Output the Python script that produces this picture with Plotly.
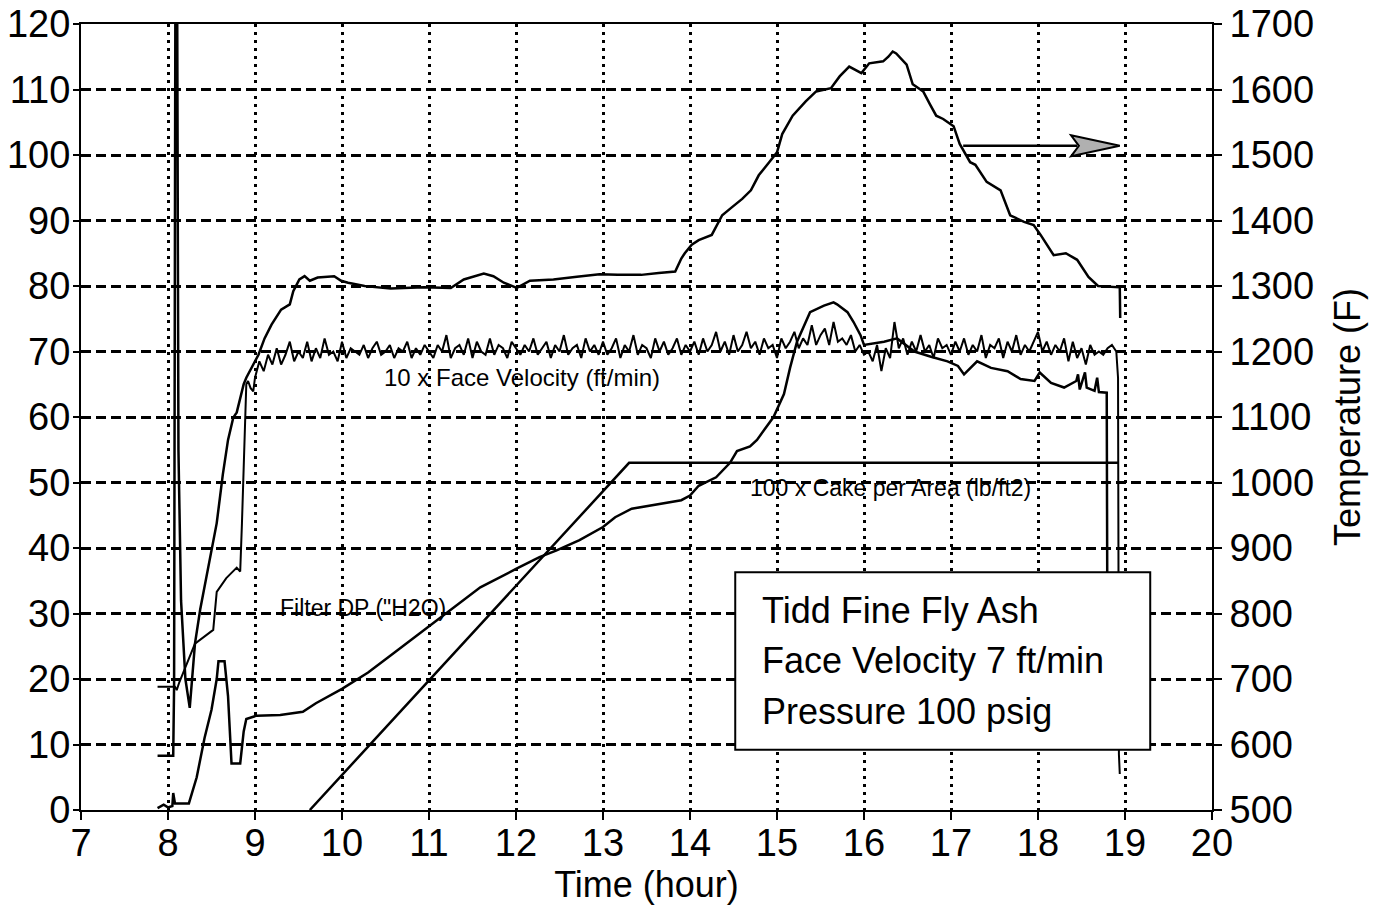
import plotly.graph_objects as go

FONT = "Liberation Sans, Arial, Helvetica, sans-serif"

# ---------------- data ----------------
# Temperature (F), right axis
temp_time = [7.88, 8.06, 8.07, 8.085, 8.105, 8.12, 8.15, 8.20, 8.25, 8.31, 8.37, 8.46, 8.56, 8.63,
             8.69, 8.75, 8.79, 8.87, 8.90, 9.04, 9.11, 9.19, 9.30, 9.40, 9.44, 9.51, 9.57, 9.63,
             9.72, 9.91, 9.99, 10.07, 10.26, 10.56, 10.94, 11.25, 11.40, 11.63, 11.74, 11.86,
             12.01, 12.16, 12.43, 12.70, 12.96, 13.17, 13.44, 13.64, 13.83, 13.90, 13.94, 14.02,
             14.10, 14.25, 14.31, 14.37, 14.48, 14.60, 14.70, 14.79, 14.91, 15.00, 15.06, 15.18,
             15.33, 15.45, 15.62, 15.72, 15.83, 15.97, 16.06, 16.22, 16.28, 16.33, 16.37, 16.49,
             16.56, 16.68, 16.76, 16.83, 16.91, 17.03, 17.10, 17.22, 17.28, 17.41, 17.57, 17.64,
             17.68, 17.84, 17.95, 18.03, 18.18, 18.32, 18.45, 18.58, 18.69, 18.94, 18.945]
temp_F = [583, 583, 690, 1760, 1760, 1050, 820, 700, 656, 754, 806, 870, 938, 1012,
          1065, 1099, 1107, 1150, 1160, 1195, 1220, 1241, 1264, 1272, 1292, 1310, 1315, 1308,
          1313, 1315, 1308, 1305, 1300, 1296, 1298, 1297, 1310, 1319, 1315, 1305,
          1297, 1308, 1310, 1314, 1318, 1317, 1317, 1320, 1322, 1342, 1350, 1363,
          1370, 1378, 1393, 1408, 1420, 1433, 1446, 1469, 1489, 1504, 1532, 1560,
          1582, 1597, 1602, 1620, 1635, 1625, 1640, 1643, 1650, 1658, 1655, 1638,
          1608, 1597, 1577, 1560, 1555, 1544, 1517, 1489, 1485, 1459, 1446, 1423,
          1408, 1398, 1393, 1378, 1347, 1350, 1340, 1314, 1300, 1298, 1251]

# 10 x Face Velocity (ft/min): start-up part
fv_time_start = [7.88, 8.08, 8.10, 8.13, 8.31, 8.52, 8.56, 8.67, 8.79, 8.83, 8.85, 8.88,
                 8.90, 8.92, 8.95, 8.98]
fv_start = [18.8, 18.8, 18.3, 19.5, 25.4, 27.5, 33.3, 35.4, 37.0, 36.4, 43.8, 55.4,
            65.0, 65.5, 64.4, 63.9]
# noisy part, sampled every 0.05 h from 9.00 h to 18.90 h
fv_noisy = [
    66.0, 68.5, 67.0, 69.5, 68.0, 70.5, 68.0, 69.5, 71.5, 68.5, 70.0, 69.0, 71.5, 68.5, 70.5, 69.0, 72.0, 69.5, 70.0, 68.5,
    71.5, 69.0, 70.5, 70.0, 69.5, 71.0, 69.0, 70.5, 71.5, 69.5, 70.0, 71.0, 69.0, 70.5, 70.0, 71.5, 69.0, 70.5, 69.5, 71.0,
    70.0, 69.0, 71.0, 70.0, 72.5, 69.0, 70.5, 71.0, 69.5, 72.0, 69.0, 71.5, 70.0, 69.5, 72.0, 69.5, 71.0, 70.5, 69.0, 71.5,
    70.5, 69.5, 71.0, 70.0, 72.0, 69.5, 70.5, 71.5, 69.0, 71.0, 70.0, 72.5, 69.5, 70.5, 71.0, 69.0, 72.0, 70.0, 71.0, 69.5,
    71.5, 69.5, 70.5, 72.0, 69.0, 71.0, 70.0, 72.5, 69.5, 71.0, 70.5, 69.0, 72.0, 70.0, 71.5, 69.5, 70.5, 72.0, 69.5, 71.0,
    70.0, 71.5, 69.5, 72.0, 70.0, 71.0, 73.0, 70.0, 71.5, 69.5, 72.5, 70.0, 71.0, 73.0, 70.5, 71.5, 69.5, 72.0, 70.5, 71.0,
    69.0, 72.0, 70.5, 71.5, 73.0, 70.5, 72.0, 71.0, 74.0, 71.0, 72.5, 73.5, 71.0, 74.5, 71.5, 72.0, 71.0, 72.5, 70.0, 71.0,
    69.5, 70.0, 68.5, 71.0, 67.0, 70.5, 69.0, 74.5, 70.5, 72.0, 69.5, 71.5, 70.0, 72.5, 70.0, 71.0, 69.0, 72.0, 70.5, 71.0,
    69.5, 71.5, 70.0, 72.0, 69.5, 71.0, 70.0, 72.5, 69.0, 71.0, 70.5, 72.0, 69.0, 71.5, 70.0, 72.5, 69.5, 71.0, 70.0, 71.5,
    73.0, 70.0, 71.5, 69.5, 71.0, 70.0, 72.0, 68.5, 71.5, 69.0, 70.5, 68.0, 71.0, 69.5, 70.0, 69.5, 70.5, 71.0, 70.0]
fv_time_end = [18.92, 18.93, 18.94]
fv_end = [66.0, 8.5, 5.5]

# Filter DP ("H2O)
dp_time = [7.88, 7.95, 8.00, 8.05, 8.06, 8.08, 8.24, 8.33, 8.42, 8.50, 8.56, 8.58, 8.65, 8.69,
           8.73, 8.83, 8.87, 8.90, 9.02, 9.29, 9.55, 9.70, 10.00, 10.30, 10.60, 10.90, 11.24,
           11.59, 12.00, 12.27, 12.46, 12.73, 13.00, 13.14, 13.33, 13.68, 13.90, 14.00, 14.10,
           14.30, 14.46, 14.54, 14.69, 14.77, 14.85, 14.96, 15.08, 15.15, 15.23, 15.31, 15.38,
           15.54, 15.65, 15.69, 15.81, 15.88, 15.96, 16.00, 16.10, 16.23, 16.38, 16.50, 16.58,
           16.77, 16.96, 17.08, 17.15, 17.30, 17.46, 17.65, 17.80, 17.96, 18.02, 18.15, 18.30,
           18.44, 18.46, 18.48, 18.54, 18.56, 18.65, 18.68, 18.70, 18.79, 18.80]
dp_val = [0.3, 0.8, 0.4, 0.6, 2.6, 1.0, 1.0, 5.0, 11.0, 15.3, 20.0, 22.7, 22.7, 17.4,
          7.1, 7.1, 12.0, 13.9, 14.4, 14.5, 15.0, 16.3, 18.5, 21.0, 24.0, 27.0, 30.5,
          34.0, 36.8, 38.6, 39.6, 41.2, 43.2, 44.7, 46.0, 46.8, 47.3, 48.0, 49.5,
          50.8, 53.0, 54.8, 55.5, 56.5, 58.0, 60.0, 63.5, 67.5, 71.5, 74.0, 76.0,
          77.0, 77.5, 77.2, 76.0, 74.5, 72.5, 71.0, 71.2, 71.5, 72.0, 70.8, 70.0,
          69.2, 68.5, 67.8, 66.5, 68.5, 67.5, 67.0, 65.8, 65.5, 66.8, 65.2, 64.5,
          65.5, 66.5, 64.2, 66.8, 64.5, 64.0, 66.0, 63.8, 63.7, 15.0]

# 100 x Cake per Area (lb/ft2)
cake_time = [9.63, 13.30, 18.92]
cake_val = [0.0, 53.0, 53.0]

x_ticks = list(range(7, 21))
y_ticks = list(range(0, 121, 10))
y2_ticks = list(range(500, 1701, 100))

# ---------------- figure ----------------
fv_time = fv_time_start + [round(9.0 + 0.05 * i, 2) for i in range(len(fv_noisy))] + fv_time_end
fv_val = fv_start + fv_noisy + fv_end

line = dict(color="black", width=2.5)
fig = go.Figure()
fig.add_trace(go.Scatter(x=dp_time, y=dp_val, mode="lines", line=line, name="Filter DP"))
fig.add_trace(go.Scatter(x=cake_time, y=cake_val, mode="lines", line=line, name="Cake"))
fig.add_trace(go.Scatter(x=fv_time, y=fv_val, mode="lines", line=dict(color="black", width=2), name="Face velocity"))
fig.add_trace(go.Scatter(x=temp_time, y=temp_F, mode="lines", line=line, name="Temperature", yaxis="y2"))

axis_common = dict(showline=True, linecolor="black", linewidth=2, ticks="outside",
                   tickwidth=2, tickcolor="black", zeroline=False, automargin=False,
                   tickfont=dict(family=FONT, size=38, color="black"))

fig.update_layout(
    width=1384, height=917,
    margin=dict(l=81, r=172, t=24, b=107),
    paper_bgcolor="white", plot_bgcolor="white",
    showlegend=False,
    font=dict(family=FONT, color="black"),
    xaxis=dict(range=[7, 20], tickvals=x_ticks, showgrid=True, gridcolor="black", gridwidth=2.5,
               griddash="3px,5px", mirror=True, ticklen=8, ticklabelstandoff=-10,
               title=dict(text="Time (hour)", font=dict(family=FONT, size=36, color="black"), standoff=4),
               **axis_common),
    yaxis=dict(range=[0, 120], tickvals=y_ticks, showgrid=True, gridcolor="black", gridwidth=2.5,
               griddash="10px,5px", ticklen=6, ticklabelstandoff=-5, **axis_common),
    yaxis2=dict(range=[500, 1700], tickvals=y2_ticks, overlaying="y", side="right", showgrid=False,
                ticklen=8,
                title=dict(text="Temperature (F)", font=dict(family=FONT, size=36, color="black"), standoff=22),
                **axis_common),
)

# info box
fig.add_shape(type="rect", xref="x", yref="y", x0=14.52, x1=19.29, y0=9.2, y1=36.3,
              line=dict(color="black", width=2), fillcolor="white", layer="above")
for txt, yy in [("Tidd Fine Fly Ash", 30.5), ("Face Velocity 7 ft/min", 22.9), ("Pressure 100 psig", 15.0)]:
    fig.add_annotation(x=14.8, y=yy, xref="x", yref="y", text=txt, showarrow=False,
                       xanchor="left", yanchor="middle", font=dict(family=FONT, size=36, color="black"))

# series labels
fig.add_annotation(x=12.07, y=66.0, xref="x", yref="y", text="10 x Face Velocity (ft/min)",
                   showarrow=False, font=dict(family=FONT, size=24, color="black"))
fig.add_annotation(x=10.24, y=30.8, xref="x", yref="y", text="Filter DP (\"H2O)",
                   showarrow=False, font=dict(family=FONT, size=23, color="black"))
fig.add_annotation(x=16.31, y=49.2, xref="x", yref="y", text="100 x Cake per Area (lb/ft2)",
                   showarrow=False, font=dict(family=FONT, size=23, color="black"))

# arrow pointing to the temperature axis
fig.add_shape(type="line", xref="x", yref="y", x0=17.14, x1=18.45, y0=101.4, y1=101.4,
              line=dict(color="black", width=2.5), layer="above")
fig.add_shape(type="path", xref="x", yref="y",
              path="M 18.38 103.0 L 18.94 101.4 L 18.38 99.8 L 18.47 101.4 Z",
              line=dict(color="black", width=2), fillcolor="#b0b0b0", layer="above")

fig.write_html("out.html")
